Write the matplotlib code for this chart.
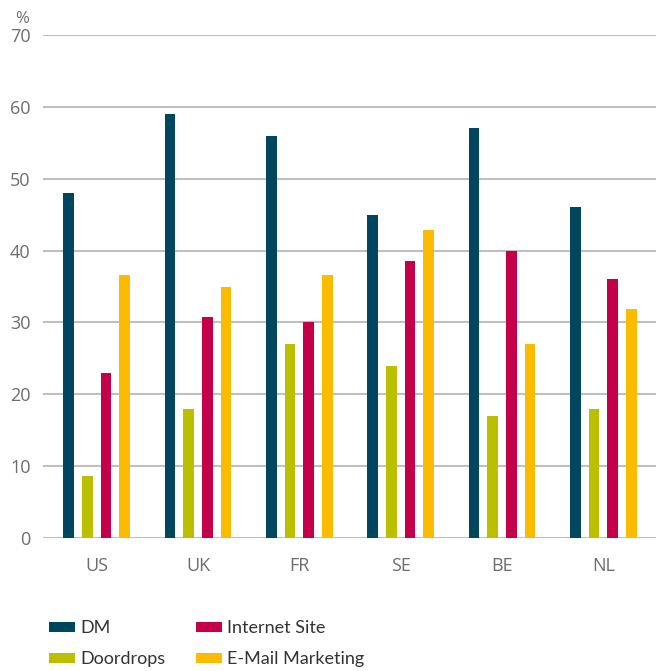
import numpy as np
import matplotlib
matplotlib.use('Agg')
import matplotlib.pyplot as plt
from matplotlib.patches import Rectangle

plt.rcParams['font.family'] = ['Open Sans', 'DejaVu Sans']

countries = ['US', 'UK', 'FR', 'SE', 'BE', 'NL']
series = ['DM', 'Doordrops', 'Internet Site', 'E-Mail Marketing']
dm = [48, 59, 56, 45, 57, 46]
doordrops = [8.6, 18, 27, 24, 17, 18]
internet = [23, 30.7, 30, 38.6, 40, 36]
email = [36.6, 34.9, 36.6, 42.9, 27, 31.8]
colors = ['#00465f', '#bbbf00', '#c5004b', '#fabb00']

W, H = 656, 671
fig = plt.figure(figsize=(W / 100, H / 100), dpi=100)
ax = fig.add_axes([43/W, 1 - 538/H, 613/W, (538-35)/H])

x = np.arange(len(countries))
step = 0.184
width = 0.105
for i, (vals, col) in enumerate(zip([dm, doordrops, internet, email], colors)):
    ax.bar(x + (i - 1.5) * step, vals, width=width, color=col, zorder=3)

ax.set_xlim(-0.53, 5.52)
ax.set_ylim(0, 70)
ax.set_yticks(range(0, 71, 10))
ax.set_xticks(x)
ax.set_xticklabels(countries)
ax.yaxis.grid(True, color='#bfbfbf', linewidth=1.5, zorder=0)
ax.set_axisbelow(True)
for s in ax.spines.values():
    s.set_visible(False)
ax.tick_params(axis='both', length=0, labelsize=13, labelcolor='#6d6d6d')
ax.tick_params(axis='y', pad=9)
ax.tick_params(axis='x', pad=14)
fig.text(15/W, 1 - 23/H, '%', fontsize=12, color='#6d6d6d',
         ha='left', va='baseline')

# legend: two columns, two rows
legend_pos = [(49, 627), (49, 658), (196, 627), (196, 658)]
for (px, py), name, col in zip(legend_pos, series, colors):
    fig.add_artist(Rectangle((px / W, 1 - (py + 5) / H), 26 / W, 10 / H,
                             facecolor=col, transform=fig.transFigure))
    fig.text((px + 31) / W, 1 - (py + 1) / H, name, fontsize=13,
             family=['Lato', 'DejaVu Sans'], color='#333333',
             ha='left', va='center')

fig.savefig('out.png', dpi=100)
